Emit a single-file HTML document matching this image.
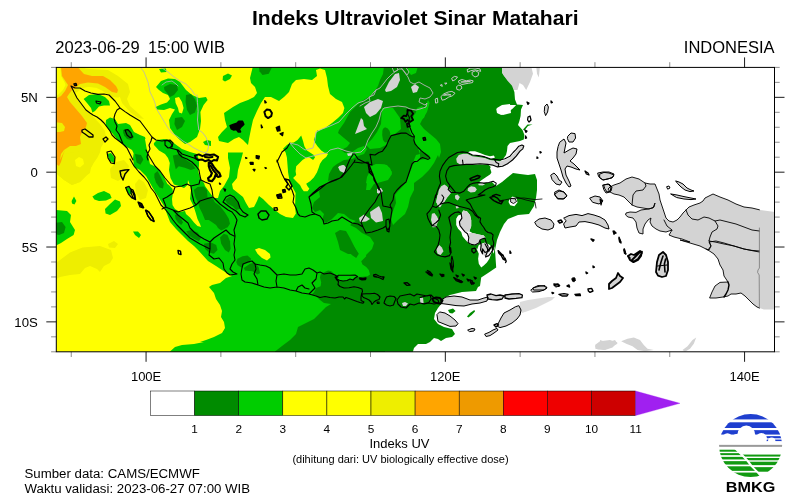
<!DOCTYPE html>
<html lang="id"><head><meta charset="utf-8"><title>Indeks Ultraviolet Sinar Matahari</title>
<style>
html,body{margin:0;padding:0;background:#fff;}
body{width:800px;height:504px;overflow:hidden;position:relative;font-family:"Liberation Sans",sans-serif;}
svg{position:absolute;left:0;top:0;display:block}
text{font-family:"Liberation Sans",sans-serif;fill:#000}
</style></head><body>
<svg width="800" height="504" viewBox="0 0 800 504">
<rect width="800" height="504" fill="#fff"/>
<defs><clipPath id="mc"><rect x="56.3" y="67.4" width="718.2" height="284.4"/></clipPath>
<clipPath id="lc"><circle cx="750.6" cy="445.6" r="31.5"/></clipPath></defs>

<g clip-path="url(#mc)">
<path d="M50.0 60.0L350.0 60.0L350.0 360.0L50.0 360.0Z" fill="#ffff00" />
<path d="M61.0 67.4L78.0 67.4L84.0 74.0L92.0 76.0L103.0 76.0L110.0 80.0L116.0 86.0L118.0 90.0L117.0 93.0L112.0 92.0L105.0 87.0L98.0 83.6L88.0 82.4L80.0 84.0L75.0 88.0L72.0 90.0L69.0 94.0L67.0 97.0L70.0 102.0L76.0 109.0L82.0 116.0L87.0 123.0L86.0 127.0L82.0 132.0L80.0 137.0L81.0 144.0L76.0 146.0L70.0 146.0L64.0 150.0L61.0 154.0L60.0 160.0L65.0 150.0L63.0 155.0L61.0 162.0L59.0 166.0L56.0 164.0L55.0 156.0L55.0 132.0L60.0 132.0L64.0 131.0L65.0 127.0L62.0 123.0L55.0 122.0L55.0 99.0L61.0 96.0L65.0 91.0L68.0 85.0L66.0 82.0L62.0 76.0Z" fill="#eeee00" stroke="#eeee00" stroke-width="9" stroke-linejoin="round"/>
<path d="M78.0 67.4L90.0 69.0L108.0 70.0L118.0 76.0L128.0 84.0L130.0 92.0L127.0 99.0L130.0 106.0L138.0 113.0L144.0 119.0L138.0 118.0L130.0 112.0L122.0 103.0L119.0 94.0L116.0 86.0L110.0 80.0L103.0 76.0L92.0 76.0L84.0 74.0Z" fill="#eeee00" />
<path d="M71.0 86.0L73.0 90.0L75.0 94.0L77.0 98.0L80.0 102.0L83.0 106.0L86.0 110.0L92.5 116.0L100.0 124.0L105.0 131.0L106.0 137.5L104.0 142.5L101.0 147.5L100.0 152.5L97.5 157.5L94.0 162.5L91.0 167.5L90.0 173.0L86.0 176.0L80.0 182.0L72.0 185.0L64.0 180.0L57.0 174.0L50.0 172.0L50.0 86.0Z" fill="#eeee00" />
<path d="M56.6 68.0L60.4 68.0L61.0 76.0L64.4 82.0L65.6 85.0L63.0 90.0L59.0 94.0L56.6 96.0Z" fill="#ffff00" />
<path d="M57.0 166.0L65.0 154.0L74.0 152.0L90.0 151.0L96.0 156.0L92.0 166.0L86.0 176.0L80.0 182.0L72.0 185.0L64.0 180.0L57.0 174.0Z" fill="#eeee00" />
<path d="M75.0 160.0L79.0 157.0L83.0 159.0L84.0 164.0L80.0 167.5L76.0 166.0Z" fill="#ffff00" />
<path d="M110.0 169.0L116.0 162.0L124.0 160.0L129.0 166.0L126.0 176.0L118.0 181.0L111.0 178.0Z" fill="#eeee00" />
<path d="M135.0 184.0L139.0 179.0L144.0 182.0L148.0 190.0L146.0 198.0L140.0 200.0L136.0 193.0Z" fill="#eeee00" />
<path d="M108.0 244.0L114.0 241.0L118.0 244.0L115.0 248.0L109.0 247.6Z" fill="#eeee00" />
<path d="M50.0 282.0L60.0 277.0L70.0 275.0L80.0 274.0L85.0 268.0L90.0 266.0L97.0 269.0L100.0 272.0L104.0 266.0L110.0 263.0L113.0 258.0L111.0 250.0L100.0 246.0L82.5 247.5L70.0 252.5L60.0 260.0L50.0 268.0Z" fill="#eeee00" />
<path d="M61.0 67.4L78.0 67.4L84.0 74.0L92.0 76.0L103.0 76.0L110.0 80.0L116.0 86.0L118.0 90.0L117.0 93.0L112.0 92.0L105.0 87.0L98.0 83.6L88.0 82.4L80.0 84.0L75.0 88.0L72.0 90.0L69.0 94.0L67.0 97.0L70.0 102.0L76.0 109.0L82.0 116.0L87.0 123.0L86.0 127.0L82.0 132.0L80.0 137.0L81.0 144.0L76.0 146.0L70.0 146.0L64.0 150.0L61.0 154.0L60.0 160.0L65.0 150.0L63.0 155.0L61.0 162.0L59.0 166.0L56.0 164.0L55.0 156.0L55.0 132.0L60.0 132.0L64.0 131.0L65.0 127.0L62.0 123.0L55.0 122.0L55.0 99.0L61.0 96.0L65.0 91.0L68.0 85.0L66.0 82.0L62.0 76.0Z" fill="#ffa500" />
<path d="M83.6 99.0L89.0 95.0L98.0 94.0L105.0 97.0L109.0 101.0L110.0 105.6L104.0 105.6L99.0 106.4L95.0 111.0L92.4 112.4L91.0 108.0L87.0 103.0Z" fill="#00cd00" />
<path d="M156.0 87.0L161.0 81.0L168.0 78.4L175.0 79.0L180.0 82.0L186.0 90.0L192.0 95.0L199.0 98.0L206.0 97.0L207.6 100.0L203.6 105.0L200.4 112.0L201.0 121.0L200.0 129.0L197.0 137.0L190.0 142.0L185.0 144.0L180.0 140.0L175.0 135.0L170.0 128.0L169.0 120.0L172.0 114.0L175.0 109.6L170.0 108.0L164.0 110.0L157.0 109.6L155.6 107.0L161.0 104.4L167.0 102.4L170.0 99.0L168.0 95.0L163.0 93.0L159.0 90.0Z" fill="#00cd00" />
<path d="M175.0 98.0L179.0 97.0L182.0 102.0L183.6 108.0L182.0 113.6L179.0 112.4L178.0 108.0L175.6 103.0Z" fill="#ffff00" />
<path d="M164.0 87.0L170.0 84.0L177.0 85.0L178.0 90.0L174.0 95.0L170.0 97.0L167.0 93.0L164.4 90.0Z" fill="#008b00" />
<path d="M186.0 95.0L191.0 94.0L195.0 99.0L197.0 106.0L195.0 112.4L190.0 115.0L187.0 110.0L185.6 102.0Z" fill="#008b00" />
<path d="M175.0 118.0L182.0 117.0L185.0 121.0L182.0 127.0L177.0 130.0L174.4 124.0Z" fill="#008b00" />
<path d="M159.0 69.0L166.0 68.4L166.4 72.0L161.0 72.4Z" fill="#00cd00" />
<path d="M203.0 142.0L207.0 140.0L211.0 141.0L211.0 146.0L205.0 145.0Z" fill="#00cd00" />
<path d="M92.4 196.4L98.0 193.0L104.0 191.0L110.0 194.0L111.6 198.0L106.0 200.4L99.0 201.0L94.4 199.6Z" fill="#00cd00" />
<path d="M105.0 209.0L110.0 204.0L115.0 199.6L120.0 201.6L121.0 206.0L117.0 211.0L110.0 215.0L105.6 213.6Z" fill="#00cd00" />
<path d="M71.6 201.0L74.0 196.4L76.4 201.0L74.4 204.4L72.0 203.6Z" fill="#00cd00" />
<path d="M133.0 231.6L138.0 231.6L141.0 235.0L139.0 238.0L135.0 235.0Z" fill="#00cd00" />
<path d="M55.0 210.0L67.0 211.0L71.0 215.0L70.0 222.0L75.0 230.0L73.6 235.0L67.0 239.0L61.0 243.0L55.0 246.0Z" fill="#00cd00" />
<path d="M55.0 223.0L62.0 222.0L65.6 227.0L64.0 233.0L59.0 235.0L55.0 234.0Z" fill="#008b00" />
<path d="M107.0 154.0L111.0 153.0L115.0 158.0L114.0 163.0L110.0 161.0Z" fill="#00cd00" />
<path d="M125.6 188.0L129.0 187.0L132.0 192.0L130.0 195.0L127.0 192.0Z" fill="#00cd00" />
<path d="M223.0 76.0L228.0 73.6L232.0 75.6L230.0 79.0L225.0 81.6L222.6 80.0Z" fill="#00cd00" />
<path d="M170.0 359.0L170.0 351.4L175.0 347.0L182.0 345.0L194.0 344.0L204.0 342.0L200.0 342.0L206.0 340.0L214.0 337.0L222.0 333.0L225.0 328.0L224.0 322.0L221.0 317.0L222.0 311.0L220.0 305.0L216.0 299.0L214.0 293.0L209.0 287.0L212.0 285.0L220.0 283.0L226.0 278.0L232.0 276.0L228.0 274.0L222.0 270.0L216.0 266.0L208.0 261.0L198.0 250.0L194.0 246.0L188.0 241.0L182.0 235.0L176.0 229.0L170.0 222.0L167.0 214.0L164.0 206.0L159.0 198.0L154.0 190.0L150.0 183.0L146.0 176.0L140.0 170.0L134.0 167.0L133.0 158.0L134.0 150.0L135.0 156.0L132.0 150.0L127.0 147.0L122.0 144.0L117.0 139.0L112.0 133.0L109.0 130.0L105.6 125.0L106.0 120.0L110.0 117.6L115.0 119.0L118.0 124.0L126.0 123.0L130.0 125.0L134.0 132.0L140.0 135.0L145.0 137.0L146.0 141.0L150.0 143.0L153.0 144.0L157.0 140.0L164.0 139.0L170.0 140.0L175.0 144.0L182.0 149.0L190.0 152.0L197.0 154.0L199.0 160.0L199.0 165.0L198.4 172.0L200.0 178.0L204.0 183.0L205.0 186.0L210.0 193.0L214.0 198.0L218.0 198.0L220.0 191.0L224.0 186.0L229.0 177.0L230.0 168.0L228.0 158.0L228.0 152.4L243.0 152.4L241.0 160.0L238.0 170.0L237.0 178.0L232.0 184.0L233.0 189.0L238.0 193.0L243.0 197.0L246.0 203.0L249.0 208.0L254.0 207.0L257.0 201.0L259.0 196.0L263.0 199.0L269.0 205.0L275.0 210.0L280.0 214.0L286.0 217.0L293.0 218.0L295.6 214.0L385.0 214.0L385.0 360.0L170.0 360.0Z" fill="#00cd00" />
<path d="M145.0 139.0L153.0 139.0L154.0 145.0L159.0 150.5L165.0 154.0L168.0 158.0L169.8 163.0L169.0 170.0L170.5 178.0L174.0 184.5L179.0 186.0L184.0 188.0L187.5 185.0L188.0 180.0L190.0 185.0L191.0 190.0L190.0 199.0L193.0 205.0L194.0 207.5L195.6 212.5L197.5 219.0L200.0 224.0L201.0 227.0L197.5 226.0L194.0 222.5L190.0 217.5L186.0 214.0L185.0 211.0L180.0 212.0L175.0 209.0L172.5 205.0L172.0 199.0L173.0 192.5L172.5 189.0L169.0 185.0L167.5 184.0L163.7 176.7L160.0 171.0L154.0 166.0L150.0 164.0L147.4 152.6L146.0 145.0Z" fill="#ffff00" />
<path d="M255.0 249.5L259.0 248.0L265.0 250.0L270.0 254.0L270.5 257.5L267.0 260.5L262.0 258.0L257.5 253.8Z" fill="#ffff00" />
<path d="M253.0 66.0L250.0 78.0L251.0 83.0L255.0 87.0L257.0 93.0L254.0 97.0L248.0 100.0L240.0 103.0L233.0 107.0L224.0 113.0L225.0 120.0L227.0 127.0L222.0 132.0L218.0 137.0L219.0 141.0L228.0 143.0L234.0 139.0L239.0 137.0L243.0 140.0L248.0 145.0L249.0 139.0L251.0 129.0L253.0 120.0L257.0 111.0L261.0 103.0L265.0 97.0L271.0 97.0L279.0 101.0L284.0 97.0L289.0 92.0L292.0 84.0L296.0 80.0L304.0 79.0L312.0 80.0L317.0 76.0L316.0 70.0L320.0 68.4L325.0 70.0L327.0 78.0L328.0 86.0L330.0 94.0L336.0 99.0L342.0 102.0L344.4 108.0L343.0 113.0L338.0 118.0L332.0 123.0L325.0 128.0L318.0 131.0L317.5 130.0L315.6 135.0L313.8 140.0L315.0 142.5L317.5 146.2L321.2 150.6L325.0 153.1L328.1 153.8L326.2 156.9L322.5 160.0L320.0 163.8L318.8 167.5L316.9 172.5L313.8 177.5L310.0 181.2L306.2 183.8L307.5 186.2L309.4 188.8L307.5 191.2L303.8 191.2L301.9 188.8L300.0 185.0L296.2 181.2L293.1 178.1L296.2 175.0L295.6 171.2L296.2 166.2L298.8 163.8L302.5 160.0L305.6 158.1L308.8 156.9L313.1 160.0L315.0 157.5L313.8 155.0L310.0 152.5L306.9 150.6L304.4 146.2L303.1 141.2L301.2 135.6L297.5 140.0L293.8 142.5L290.0 143.1L286.9 145.0L283.1 148.8L285.6 152.5L286.9 157.5L287.5 165.0L288.1 172.5L289.4 180.0L291.2 185.0L293.8 189.4L295.6 193.0L295.0 207.0L296.0 215.0L385.0 215.0L400.0 160.0L400.0 60.0Z" fill="#00cd00" />
<path d="M123.0 130.0L127.0 129.0L131.0 133.0L134.0 137.0L131.0 140.0L127.0 139.0L124.0 135.0Z" fill="#008b00" />
<path d="M123.0 131.5L127.5 130.0L132.0 134.5L129.0 138.3L124.5 136.0Z" fill="#008b00" />
<path d="M135.0 154.0L141.0 155.0L143.4 159.4L140.4 164.7L136.6 162.4Z" fill="#008b00" />
<path d="M154.4 173.8L157.5 171.0L161.0 177.5L163.8 183.8L163.0 188.5L159.4 187.5L156.0 182.5L154.4 177.5Z" fill="#008b00" />
<path d="M172.8 155.6L180.3 154.0L186.3 160.0L192.4 164.0L195.4 168.4L190.9 170.0L184.8 167.7L178.8 166.2L175.8 169.2L174.3 163.2Z" fill="#008b00" />
<path d="M193.8 190.0L197.5 187.0L203.8 186.5L207.0 190.0L207.5 197.0L212.5 198.0L215.0 202.5L220.0 206.0L225.0 212.5L228.8 218.8L230.0 223.8L227.5 227.5L222.5 228.8L217.5 226.0L212.5 222.5L208.8 220.0L205.0 220.0L202.5 213.8L199.4 207.5L198.0 202.5L195.6 197.5Z" fill="#008b00" />
<path d="M225.0 200.0L230.0 196.5L235.0 198.0L238.8 203.8L240.0 208.8L236.2 210.0L232.5 206.2L227.5 203.8Z" fill="#008b00" />
<path d="M175.0 215.0L177.5 213.8L181.2 218.8L183.0 222.5L181.2 225.0L178.0 222.5L175.6 218.8Z" fill="#008b00" />
<path d="M186.2 231.2L191.2 230.0L197.5 232.5L201.2 237.5L198.8 241.2L193.8 238.8L188.8 235.6Z" fill="#008b00" />
<path d="M203.8 243.8L211.2 242.5L216.2 245.0L217.5 250.0L213.8 253.8L208.8 252.5L205.0 248.8Z" fill="#008b00" />
<path d="M220.0 237.5L223.8 233.8L227.5 235.0L230.0 241.2L230.6 248.8L228.8 252.5L225.0 250.0L221.2 243.8Z" fill="#008b00" />
<path d="M216.2 225.0L227.5 225.0L225.0 228.8L221.2 230.6L218.0 228.0Z" fill="#008b00" />
<path d="M237.5 258.8L242.5 256.2L247.5 255.6L251.2 258.8L250.0 262.5L245.0 263.8L241.2 267.5L237.5 265.0L236.2 262.0Z" fill="#008b00" />
<path d="M250.0 263.8L255.0 262.5L258.8 267.5L260.0 273.0L257.5 274.4L252.5 271.2L245.0 270.6L243.8 268.0Z" fill="#008b00" />
<path d="M500.0 66.2L531.2 66.2L533.0 73.8L530.0 82.0L526.2 90.0L523.0 85.0L519.5 83.0L517.5 90.0L505.0 90.0L500.0 75.0Z" fill="#d3d3d3" />
<path d="M536.2 66.2L540.0 66.2L538.8 77.5L537.0 73.8Z" fill="#d3d3d3" />
<path d="M568.0 136.0L571.0 133.0L575.0 133.6L575.6 138.0L573.0 142.0L569.0 142.0L567.6 139.0Z" fill="#d3d3d3" />
<path d="M560.0 142.0L564.0 139.0L566.0 143.0L565.0 148.0L564.0 153.0L569.0 150.0L573.0 148.0L577.0 149.0L576.0 154.0L573.0 158.0L570.0 161.0L574.0 164.0L578.0 168.0L580.0 170.0L576.0 169.0L571.0 167.0L567.0 166.0L565.0 169.0L566.0 175.0L569.0 181.0L571.0 186.0L569.0 187.0L566.0 183.0L563.0 177.0L561.0 170.0L559.0 164.0L557.0 158.0L557.0 152.0L558.0 147.0Z" fill="#d3d3d3" />
<path d="M551.0 175.0L554.0 173.0L557.0 176.0L559.0 180.0L562.0 182.0L560.0 185.0L556.0 184.0L552.4 180.0Z" fill="#d3d3d3" />
<path d="M555.0 192.0L559.0 190.0L564.0 192.0L567.0 196.0L564.0 199.0L558.0 198.4L555.0 195.6Z" fill="#d3d3d3" />
<path d="M598.0 173.0L603.0 172.0L609.0 172.0L614.0 174.0L613.0 177.0L608.0 179.0L603.0 180.0L599.0 177.0Z" fill="#d3d3d3" />
<path d="M604.0 185.0L609.0 184.0L612.0 187.0L611.0 191.0L607.0 192.0L605.0 189.0Z" fill="#d3d3d3" />
<path d="M545.0 106.0L547.0 104.0L548.4 107.0L547.6 112.0L545.6 115.6L544.4 112.0Z" fill="#d3d3d3" />
<path d="M535.0 222.0L539.0 219.0L545.0 218.0L551.0 220.0L554.0 224.0L553.0 228.0L548.0 230.0L542.0 229.0L537.0 226.0Z" fill="#d3d3d3" />
<path d="M564.0 218.0L569.0 215.6L576.0 214.4L582.0 215.6L588.0 213.6L594.0 215.0L600.0 217.0L605.0 220.0L608.0 225.0L609.0 229.0L605.0 228.0L599.0 225.0L592.0 223.0L585.0 221.6L579.0 222.0L576.0 226.0L570.0 227.0L565.0 228.0L563.6 224.0L566.0 221.0Z" fill="#d3d3d3" />
<path d="M590.0 198.0L595.0 196.0L600.0 197.0L603.0 201.0L599.0 204.0L593.0 202.4Z" fill="#d3d3d3" />
<path d="M628.0 256.0L631.0 254.0L634.0 255.0L640.0 251.0L642.0 253.0L638.0 259.0L633.0 262.0L630.0 260.0Z" fill="#d3d3d3" />
<path d="M609.0 284.0L612.0 281.0L616.0 278.0L618.0 273.0L620.0 276.0L623.0 278.0L620.0 282.0L616.0 285.0L612.0 288.0L609.0 289.0Z" fill="#d3d3d3" />
<path d="M533.0 288.0L538.0 285.6L544.0 286.0L547.0 288.0L544.0 290.0L534.0 290.0Z" fill="#d3d3d3" />
<path d="M610.0 187.0L614.0 185.0L620.0 183.0L626.0 179.0L632.0 177.0L639.0 179.0L645.0 183.0L650.0 184.0L655.0 184.0L657.0 189.0L659.0 194.0L660.0 200.0L662.0 206.0L664.0 212.0L666.0 218.0L669.0 221.0L673.0 222.0L677.0 220.0L680.0 217.0L683.0 213.0L686.0 210.0L689.0 207.0L694.0 205.0L700.0 203.0L703.0 201.0L705.0 198.0L709.0 196.0L713.0 194.0L720.0 197.0L728.0 200.0L736.0 204.0L744.0 207.0L752.0 208.0L760.0 210.0L778.0 212.4L778.0 309.6L764.0 309.6L759.4 308.0L757.0 307.0L753.0 304.0L749.0 300.0L745.0 296.0L741.0 293.0L736.0 294.0L731.0 294.0L728.0 296.0L723.0 297.0L716.0 298.0L709.6 298.0L712.0 292.0L715.0 286.0L720.0 282.4L728.0 282.0L724.0 276.0L723.0 270.0L720.0 265.0L718.0 259.0L714.0 254.0L708.0 250.0L700.0 246.0L690.0 243.0L680.0 240.0L690.0 242.0L682.0 239.0L674.0 237.0L669.0 235.0L672.0 230.0L666.0 232.0L660.0 231.0L656.0 229.0L652.0 226.0L650.0 222.0L651.0 218.0L648.0 220.0L645.0 224.0L643.0 229.0L643.0 234.0L639.0 233.0L637.0 228.0L636.0 222.0L633.0 218.0L628.0 217.0L625.6 215.0L626.0 213.0L630.0 212.0L636.0 212.4L641.0 210.0L647.0 209.2L643.0 208.0L637.0 207.0L632.0 205.0L628.0 201.0L624.0 197.0L619.0 195.0L614.0 194.0L610.0 192.0L608.0 189.0Z" fill="#d3d3d3" />
<path d="M671.0 194.0L677.0 195.0L684.0 196.6L691.0 198.0L696.0 199.0L691.0 199.6L684.0 199.0L677.0 197.6Z" fill="#d3d3d3" />
<path d="M676.0 181.0L679.0 182.0L683.0 184.0L687.0 188.0L691.0 190.0L694.0 191.0L690.0 191.6L685.0 190.0L681.0 187.0L678.0 184.0Z" fill="#d3d3d3" />
<path d="M600.0 174.0L604.0 172.4L609.0 173.0L614.0 175.0L612.0 178.0L607.0 179.0L603.0 180.0L600.0 178.0Z" fill="#d3d3d3" />
<path d="M603.0 185.0L608.0 184.0L611.0 187.0L610.0 192.0L606.0 193.0L604.0 190.0Z" fill="#d3d3d3" />
<path d="M656.0 272.0L657.0 262.0L659.0 255.0L663.0 252.0L666.0 255.0L668.0 262.0L668.0 270.0L666.0 276.0L662.0 277.0L658.0 275.6Z" fill="#d3d3d3" />
<path d="M600.0 340.0L607.5 342.5L615.0 340.0L617.5 343.8L610.0 347.5L603.8 350.0L600.0 348.8Z" fill="#d3d3d3" />
<path d="M621.2 341.2L627.5 338.8L633.8 337.5L640.0 340.0L643.8 345.0L647.5 348.8L653.8 350.0L645.0 351.2L637.5 350.0L632.5 346.2L626.2 343.8Z" fill="#d3d3d3" />
<path d="M682.5 350.0L687.5 346.2L692.5 340.0L696.2 337.5L693.8 343.8L690.0 348.8L685.0 351.8Z" fill="#d3d3d3" />
<path d="M595.0 345.0L600.0 341.2L610.0 340.0L617.5 342.5L612.5 347.5L605.0 350.0L597.5 349.5Z" fill="#d3d3d3" />
<path d="M520.0 302.0L528.0 300.0L538.0 298.4L548.0 297.0L555.0 297.0L552.0 300.0L544.0 304.0L536.0 308.0L528.0 311.0L522.0 313.0L519.0 309.0L519.6 305.0Z" fill="#dcdcdc" />
<path d="M441.0 300.0L446.0 297.0L454.0 296.0L462.0 297.0L470.0 300.0L478.0 300.0L484.0 298.0L488.0 297.0L487.0 301.0L480.0 303.0L472.0 304.0L464.0 306.0L456.0 305.6L448.0 304.4L442.0 303.6Z" fill="#d3d3d3" />
<path d="M487.0 295.0L491.0 294.0L496.0 295.6L500.0 295.0L504.0 296.0L502.0 299.0L497.0 300.0L492.0 299.6L488.0 299.0Z" fill="#d3d3d3" />
<path d="M505.0 295.0L512.0 294.0L519.0 293.6L522.4 295.0L522.0 297.6L516.0 298.4L509.0 299.0L505.0 298.0Z" fill="#d3d3d3" />
<path d="M531.0 290.0L534.0 287.6L540.0 286.0L545.0 285.6L547.0 287.6L544.0 290.0L539.0 291.6L533.0 292.0Z" fill="#d3d3d3" />
<path d="M519.0 306.0L521.0 310.0L520.0 315.0L517.0 319.0L512.0 323.0L506.0 326.0L500.0 327.6L497.0 326.0L499.0 322.0L501.0 318.0L504.0 313.0L510.0 310.0L515.0 307.0Z" fill="#d3d3d3" />
<path d="M485.0 334.0L489.0 332.4L493.0 330.0L497.0 328.4L498.0 330.0L494.0 333.0L490.0 335.6L486.4 336.4Z" fill="#d3d3d3" />
<path d="M468.0 330.0L472.0 328.4L475.0 329.0L474.0 331.0L470.0 331.6Z" fill="#d3d3d3" />
<path d="M440.0 312.0L445.0 313.0L450.0 316.0L455.0 320.0L458.0 323.6L456.0 326.0L450.0 326.4L444.0 324.0L438.0 321.6L437.0 315.0Z" fill="#d3d3d3" />
<path d="M595.0 346.0L600.0 342.0L606.0 342.0L606.0 349.0L595.6 349.0Z" fill="#d3d3d3" />
<path d="M384.0 66.0L383.0 74.0L380.0 80.0L378.0 86.0L374.0 92.0L370.0 96.0L362.0 101.0L356.0 106.0L350.0 112.0L344.0 123.0L339.0 130.0L338.0 133.0L344.0 138.0L350.0 143.0L347.0 147.0L341.0 150.0L345.0 153.0L352.0 152.0L358.0 148.0L364.0 146.0L367.0 149.0L364.0 154.0L358.0 156.0L352.0 159.0L344.0 160.0L337.0 164.0L333.0 167.0L329.0 174.0L328.0 181.0L331.0 180.0L324.0 185.0L319.0 191.0L320.0 197.0L314.0 202.0L312.0 208.0L315.0 212.0L320.0 210.0L324.0 214.0L322.0 220.0L326.0 223.0L332.0 219.0L338.0 213.0L344.0 214.0L350.0 219.0L356.0 221.0L360.0 218.0L350.0 225.0L356.0 228.0L362.0 233.0L370.0 237.0L374.0 243.0L372.0 249.0L366.0 255.0L366.2 256.2L361.2 261.2L362.5 264.4L366.2 266.9L368.8 270.0L370.0 274.4L367.5 276.2L360.0 276.9L355.0 275.6L337.5 275.6L335.0 275.0L333.1 273.1L331.2 271.2L328.1 270.6L323.8 272.5L320.6 274.4L320.0 277.5L321.2 282.5L320.6 286.2L316.2 288.1L313.8 292.5L311.2 295.0L315.0 295.0L320.0 300.0L324.0 303.0L331.0 304.0L326.0 307.0L320.0 313.0L314.0 319.0L306.0 323.0L298.0 327.0L296.0 334.0L290.0 340.0L282.0 346.0L275.0 351.4L275.0 359.0L413.0 359.0L413.0 351.4L414.0 348.0L418.0 344.0L426.0 344.0L430.0 342.0L434.0 338.0L438.0 339.0L441.0 341.0L446.0 338.0L452.0 337.0L455.0 334.0L452.0 329.0L444.0 327.0L438.0 324.0L434.0 319.0L435.0 313.0L438.0 308.0L442.0 303.0L444.0 298.0L450.0 295.0L462.0 292.0L476.0 291.0L478.0 287.0L480.0 286.0L481.2 277.5L488.8 272.5L496.2 267.5L495.0 250.0L497.0 240.0L500.0 232.0L504.0 224.0L508.0 219.0L518.0 215.0L529.0 214.0L534.0 206.0L536.0 198.0L537.0 190.0L537.0 180.0L535.0 174.0L528.0 175.0L520.0 174.0L513.0 173.0L508.0 177.0L502.0 182.0L496.0 186.0L490.0 180.0L492.0 174.0L490.0 168.0L492.0 166.0L499.0 162.0L503.0 159.0L506.0 155.0L507.0 151.0L507.0 151.0L507.5 146.0L510.0 143.0L515.0 142.0L520.0 141.0L523.8 139.4L524.4 135.0L522.5 130.0L518.0 125.0L519.4 121.0L520.6 116.0L521.0 109.5L523.0 105.0L517.0 104.5L515.0 99.5L514.4 92.0L512.0 85.8L507.5 80.8L503.0 74.5L501.9 68.0L501.0 60.0Z" fill="#008b00" />
<path d="M523.0 129.4L527.5 124.4L532.5 124.4L528.0 126.0L524.4 130.5Z" fill="#008b00" />
<path d="M338.1 238.8L348.8 238.8L353.8 246.2L358.8 253.8L356.2 258.1L352.5 255.6L347.5 251.2L343.1 246.2L339.4 242.5Z" fill="#008b00" />
<path d="M335.0 233.0L340.0 230.0L346.0 231.0L350.0 238.0L354.0 246.0L358.0 254.0L348.0 254.0L340.0 250.0L338.0 242.0Z" fill="#008b00" />
<path d="M258.8 66.2L272.5 66.2L268.8 73.8L262.5 75.0L259.5 71.2Z" fill="#008b00" />
<path d="M336.5 277.0L338.5 275.2L344.0 275.2L350.0 275.2L355.0 275.0L357.5 276.5L355.0 278.0L353.0 280.0L350.0 279.0L347.0 280.5L343.0 281.0L339.5 280.2L337.0 279.0Z" fill="#00cd00" />
<path d="M369.0 173.0L371.0 167.0L378.0 164.0L387.0 165.0L392.0 172.0L389.0 178.0L382.0 180.0L376.0 181.0L370.0 185.0L366.0 183.0L367.0 177.0Z" fill="#00cd00" />
<path d="M418.0 111.0L424.0 109.0L428.0 100.0L429.6 103.0L427.0 112.0L422.0 120.0L420.0 124.0L424.0 129.0L430.0 134.0L436.0 139.0L440.0 144.0L441.0 152.0L439.0 158.0L438.0 155.0L434.0 163.0L429.0 170.0L422.0 177.0L414.0 183.0L414.0 190.0L410.0 198.0L408.0 207.0L405.0 214.0L398.0 220.0L393.0 225.0L391.0 219.0L393.0 211.0L396.0 203.0L395.0 195.0L399.0 190.0L404.0 185.0L408.0 177.0L412.0 167.0L414.0 160.0L416.0 155.0L420.0 154.0L418.0 148.0L414.0 140.0L410.0 132.0L408.0 126.0L412.0 120.0L414.0 115.0Z" fill="#00cd00" />
<path d="M408.0 66.0L418.0 66.0L416.0 73.0L411.0 75.0L408.0 71.0Z" fill="#00cd00" />
<path d="M382.0 108.0L393.0 108.0L400.0 118.0L401.0 129.0L395.0 134.0L389.0 137.0L388.0 144.0L380.0 148.0L370.0 149.0L366.0 145.0L372.0 139.0L377.0 132.0L381.0 124.0Z" fill="#00cd00" />
<path d="M382.4 130.7L383.0 128.7L385.0 127.3L387.5 128.3L389.5 130.7L390.3 133.5L390.0 139.0L388.0 142.0L385.0 142.5L383.0 140.0L382.2 135.0Z" fill="#008b00" />
<path d="M420.0 150.6L425.0 152.5L430.0 156.2L427.5 158.8L422.5 159.4L420.0 160.0Z" fill="#008b00" />
<path d="M369.0 167.0L376.0 164.0L385.0 164.4L390.0 168.0L392.0 174.0L388.0 180.0L381.0 182.0L374.0 184.0L370.0 190.0L366.0 190.0L367.0 182.0L372.0 178.0L373.0 173.0L369.0 170.0Z" fill="#00cd00" />
<path d="M417.0 108.0L422.0 106.0L426.0 112.0L424.0 118.0L419.0 120.0L415.0 116.0Z" fill="#00cd00" />
<path d="M488.1 164.6L491.9 168.1L492.5 171.2L490.0 174.4L486.2 176.9L482.5 179.4L479.8 181.6L479.0 182.9L485.0 183.1L490.0 182.5L493.8 181.2L496.9 183.8L501.2 181.9L505.0 178.8L507.5 176.2L510.0 173.8L513.8 171.9L521.2 172.2L521.2 151.9L516.2 156.9L512.5 160.6L507.5 164.4L502.5 166.9L497.5 167.2L492.5 165.6Z" fill="#ffffff" />
<path d="M467.5 152.5L470.0 151.2L475.0 151.2L480.0 153.1L485.0 155.0L490.0 156.2L493.8 155.6L495.0 157.5L491.2 159.0L485.0 157.1L478.8 155.9L472.5 155.2Z" fill="#ffffff" />
<path d="M456.2 158.8L458.8 155.0L463.1 153.8L467.5 153.8L472.5 156.2L478.8 156.9L485.0 158.1L490.0 160.0L495.0 160.6L500.0 161.2L505.0 160.0L510.0 157.5L513.8 153.8L516.9 150.0L520.0 146.2L521.9 145.2L523.5 146.0L522.8 148.8L520.0 151.9L516.2 156.9L512.5 160.6L507.5 164.4L502.5 166.9L497.5 167.2L492.5 165.6L487.5 164.8L480.0 164.4L472.5 164.8L466.2 164.8L460.0 164.4L456.9 162.5Z" fill="#d3d3d3" />
<path d="M385.0 90.0L389.0 82.0L395.0 74.0L399.0 73.0L400.0 80.0L397.0 87.0L391.0 91.0L386.0 92.0Z" fill="#d3d3d3" />
<path d="M364.0 107.0L370.0 102.0L378.0 99.0L383.0 101.0L381.0 108.0L376.0 114.0L370.0 117.0L366.0 113.0Z" fill="#d3d3d3" />
<path d="M355.0 134.0L358.0 126.0L361.0 118.0L363.0 120.0L364.0 126.0L367.0 129.0L360.0 132.0Z" fill="#d3d3d3" />
<path d="M411.0 87.0L415.0 84.0L419.0 87.0L417.0 92.0L413.0 93.0Z" fill="#d3d3d3" />
<path d="M502.0 68.0L510.0 67.0L510.0 80.0L505.0 77.0L502.0 73.0Z" fill="#d3d3d3" />
<path d="M497.0 108.0L502.0 105.0L510.0 104.0L511.0 113.0L503.0 115.0L498.0 113.0Z" fill="#ffffff" />
<path d="M347.0 153.6L352.0 153.0L351.6 155.6L348.0 156.0Z" fill="#d3d3d3" />
<path d="M338.0 167.0L343.0 165.0L346.0 169.0L344.0 173.0L340.0 171.0Z" fill="#d3d3d3" />
<path d="M339.0 166.0L344.0 165.0L346.4 168.0L344.0 171.6L340.0 171.0Z" fill="#d3d3d3" />
<path d="M377.0 189.0L381.0 188.0L383.0 191.0L380.0 194.0L377.0 193.0Z" fill="#d3d3d3" />
<path d="M359.0 218.0L364.0 214.6L370.0 219.0L366.0 221.4L360.0 222.0Z" fill="#d3d3d3" />
<path d="M370.0 212.0L379.0 206.0L382.0 213.0L383.0 221.0L376.0 222.6L371.0 218.0Z" fill="#d3d3d3" />
<path d="M468.1 188.1L471.2 186.2L475.0 186.9L476.9 189.4L475.0 191.9L470.6 192.5L467.5 190.6Z" fill="#d3d3d3" />
<path d="M478.1 183.8L482.5 183.1L485.0 184.4L482.5 185.6L478.8 185.2Z" fill="#d3d3d3" />
<path d="M438.8 190.0L441.2 186.2L444.4 184.4L446.9 186.2L449.4 189.4L451.9 191.9L449.4 195.0L446.9 198.1L444.4 201.9L443.1 203.0L436.2 203.0L436.9 198.8L438.1 193.8Z" fill="#d3d3d3" />
<path d="M455.0 195.6L457.5 194.4L459.8 196.9L458.1 200.0L455.6 198.8Z" fill="#d3d3d3" />
<path d="M431.9 224.8L436.9 224.5L436.2 226.9L432.5 227.2Z" fill="#ffffff" />
<path d="M437.5 195.0L448.1 195.0L446.2 198.8L443.1 203.1L440.0 207.5L437.5 205.6L436.2 201.2Z" fill="#d3d3d3" />
<path d="M431.9 213.8L434.4 213.1L436.9 216.2L438.8 220.0L436.9 224.4L432.5 225.0L431.0 220.0Z" fill="#d3d3d3" />
<path d="M455.0 196.2L457.5 195.0L459.4 197.5L457.5 200.6L455.6 198.8Z" fill="#d3d3d3" />
<path d="M455.6 206.2L458.1 206.0L458.8 208.1L456.2 208.5Z" fill="#d3d3d3" />
<path d="M436.2 248.8L439.4 245.0L441.9 247.5L443.5 251.2L440.6 255.0L437.5 253.8Z" fill="#d3d3d3" />
<path d="M456.2 218.8L458.1 215.6L461.2 214.4L463.1 210.6L466.9 211.2L470.0 215.0L471.2 220.0L471.2 226.2L469.4 231.2L472.5 233.1L478.8 234.4L483.8 235.6L485.6 238.1L482.5 239.0L480.0 240.2L478.8 243.8L475.0 245.2L471.2 244.8L468.1 242.8L465.6 240.0L462.5 236.2L461.2 231.9L458.1 228.8L456.2 225.0Z" fill="#ffffff" />
<path d="M461.9 215.0L463.1 210.6L466.9 211.2L470.0 215.0L471.2 220.0L471.2 226.2L469.4 231.2L466.2 231.9L463.1 228.8L460.0 225.6L459.4 221.9L461.9 218.1Z" fill="#d3d3d3" />
<path d="M468.8 233.1L472.5 233.1L478.8 234.4L483.8 235.6L485.0 238.1L482.5 238.8L480.0 240.2L478.8 243.5L475.0 245.0L471.2 244.4L468.1 242.5L468.8 237.5Z" fill="#d3d3d3" />
<path d="M478.8 245.0L485.0 242.5L490.0 245.0L491.9 250.0L493.8 253.8L494.8 246.2L493.1 250.0L491.2 253.8L489.4 258.8L486.9 262.5L483.8 265.6L481.2 267.5L478.8 263.8L478.1 258.8L478.8 253.8L476.9 249.4L475.0 246.2L476.9 250.0Z" fill="#ffffff" />
<path d="M480.2 245.0L482.5 243.2L485.2 243.8L486.5 247.5L488.1 250.0L490.0 252.5L492.5 245.0L491.2 250.0L488.1 253.8L485.0 256.2L482.5 254.4L481.2 250.0L479.8 246.2L480.6 250.0Z" fill="#d3d3d3" />
<path d="M496.2 108.8L502.5 106.2L510.0 105.0L516.2 105.0L512.5 108.8L507.5 112.5L501.2 115.0L497.0 113.0Z" fill="#ffffff" />
<path d="M509.4 199.4L512.5 196.5L516.5 198.1L517.5 202.5L514.4 206.2L510.2 205.2L508.5 201.9Z" fill="#ffffff" />
<path d="M511.0 198.5L515.2 198.8L516.5 201.5L513.5 203.5L511.0 202.2Z" fill="#d3d3d3" />
<path d="M402.0 303.0L405.0 302.0L408.0 303.4L406.0 306.0L403.0 306.0Z" fill="#d3d3d3" />
<path d="M420.0 298.0L423.0 297.4L423.6 303.0L420.4 304.0Z" fill="#d3d3d3" />
<path d="M448.0 310.0L453.0 308.6L455.6 311.0L452.4 313.6L449.6 313.0Z" fill="#008b00" />
<path d="M467.0 316.4L470.0 313.0L474.4 310.0L475.0 311.6L471.6 315.0L468.4 317.6Z" fill="#008b00" />
<path d="M71.0 86.0L75.0 88.0L80.0 88.0L85.0 91.0L91.0 93.0L98.0 94.4L104.0 94.0L109.0 95.0L112.0 98.0L115.0 101.0L118.0 105.0L120.0 108.0L125.0 111.6L130.0 115.0L135.0 118.0L140.0 121.0L143.0 125.0L146.0 129.0L149.0 133.0L152.0 137.0L156.0 140.0L162.0 141.0L167.0 140.0L170.0 142.0L172.0 145.0L170.0 148.0L174.0 149.0L178.0 150.0L182.0 154.0L188.0 156.0L194.0 158.0L199.0 160.0M71.0 86.0L73.0 90.0L75.0 94.0L77.0 98.0L80.0 102.0L83.0 106.0L86.0 110.0L90.0 113.0L93.0 115.0L97.0 117.0L101.0 120.0L104.0 123.0L107.0 127.0L110.0 131.0L112.0 135.0L115.0 138.0L119.0 141.0L123.0 144.0L127.0 148.0L129.0 152.0L131.0 156.0L133.0 160.0M120.0 108.0L117.0 110.0L115.0 114.0L114.0 118.0L115.0 122.0L117.0 126.0L116.0 130.0L119.0 134.0L121.0 139.0L123.0 144.0M152.0 137.0L151.0 141.0L149.0 145.0L150.0 149.0L148.0 153.0L147.0 157.0L148.0 160.0M165.0 141.0L170.0 140.0L173.0 143.0L172.0 147.0L168.0 148.0L165.0 145.0ZM130.0 159.0L134.0 166.0L139.0 172.0L144.0 177.0L148.0 182.0L151.0 188.0L155.0 193.0L158.0 199.0L161.0 205.0L165.0 209.0L169.0 214.0L173.0 220.0L177.0 225.0L181.0 229.0L186.0 234.0L190.0 238.0L195.0 241.0L200.0 244.0L206.0 247.0L210.0 249.0L209.0 255.0L214.0 259.0L219.0 258.0L223.0 263.0L224.0 269.0L227.0 273.0L230.0 275.0L237.0 274.0L233.0 272.0L230.0 269.0L232.0 264.0L235.0 260.0L234.0 255.0M177.0 150.0L179.0 154.0L182.0 157.0L187.0 159.0L192.0 162.0L196.0 166.0L199.0 170.0L200.0 176.0L201.0 180.0L205.0 182.0L210.0 184.0L212.0 190.0L213.0 197.0L216.0 200.0L220.0 204.0L224.0 207.0L228.0 210.0L232.0 212.0L235.0 216.0L237.0 220.0L236.0 224.0L234.0 230.0L235.0 236.0L234.0 244.0L235.0 250.0L234.0 255.0M146.0 150.0L149.0 156.0L155.0 166.0L160.0 171.0L165.0 178.0L171.0 185.0L175.0 187.0L173.0 193.0L167.0 197.0L163.0 199.0L165.0 204.0L166.0 207.0L162.0 209.0M175.0 187.0L182.0 186.0L187.0 184.0L191.0 186.0L199.0 184.0L200.0 180.0M191.0 186.0L192.0 194.0L194.0 202.0L196.0 205.0L190.0 208.0L184.0 210.0L178.0 212.0L173.0 210.0L168.0 208.0L165.6 207.0M196.0 205.0L200.0 201.0L206.0 199.0L213.0 197.0M173.0 210.0L178.0 215.0L183.0 219.0L188.0 223.0L190.0 228.0L194.0 232.0L199.0 236.0L204.0 239.0L210.0 242.0L214.0 238.0L220.0 234.0L226.0 230.0L230.0 234.0L234.0 236.0M210.0 242.0L210.0 249.0M242.0 268.0L243.0 264.0L248.0 262.0L252.0 261.0L255.0 264.0L260.0 265.0L266.0 266.0L270.0 268.0L274.0 272.0L277.0 275.0L284.0 274.0L290.0 275.0L296.0 275.0L302.0 274.0L305.0 269.0L309.0 268.0L313.0 270.0L317.0 273.0L320.0 272.0L324.0 274.0L330.0 273.0L335.0 275.0L338.0 277.0L335.0 277.0L336.5 279.5L338.5 281.5L338.0 284.5L340.0 286.5L344.0 288.0L349.0 287.8L354.0 286.8L358.0 287.5L362.0 289.0L362.5 291.5L361.5 294.0L361.0 297.0L361.0 300.5L364.0 302.0L363.0 303.2L360.0 302.5L357.0 301.5L353.0 300.0L349.0 298.5L346.0 297.5L344.5 299.0L343.0 297.0L339.0 297.0L335.0 298.0L330.0 297.5L325.0 296.5L320.0 297.5L316.0 296.0L309.0 294.0L302.0 293.0L296.0 291.0L290.0 290.0L284.0 288.0L277.0 287.0L270.0 288.0L264.0 287.0L258.0 285.0L252.0 283.0L245.0 282.0L242.0 280.0L241.0 274.0ZM255.0 264.0L256.0 269.0L254.0 274.0L257.0 279.0L258.0 285.0M277.0 275.0L276.0 281.0L277.0 287.0M317.0 273.0L316.0 279.0L312.0 283.0L315.0 288.0L309.0 294.0M296.0 291.0L298.0 287.0L302.0 285.0L305.0 288.0L309.0 289.0M336.5 277.0L338.5 275.2L344.0 275.2L350.0 275.2L355.0 275.0L357.5 276.5L355.0 278.0L353.0 280.0L350.0 279.0L347.0 280.5L343.0 281.0L339.5 280.2L337.0 279.0ZM362.0 294.0L366.0 293.8L370.0 293.8L374.5 293.2L377.5 294.5L380.0 297.0L379.0 299.5L376.0 300.5L374.0 302.0L372.0 304.5L371.0 302.0L369.0 300.0L366.0 298.5L363.5 297.5L362.2 296.0ZM384.0 303.0L385.0 300.0L386.5 297.0L390.0 296.0L394.0 296.5L396.0 298.5L394.5 302.0L393.5 305.0L390.0 306.0L386.5 305.0ZM397.0 300.0L400.0 296.0L405.0 295.0L410.0 294.0L414.0 296.0L417.0 294.0L422.0 295.0L427.0 296.0L431.0 295.0L434.0 298.0L438.0 300.0L439.0 303.0L434.0 304.0L429.0 303.0L424.0 304.0L419.0 303.0L414.0 305.0L410.0 304.0L406.0 308.0L401.0 307.0L398.0 304.0ZM290.0 143.0L287.0 148.0L282.0 152.0L279.0 158.0L277.0 162.0L277.0 160.0L279.0 166.0L282.0 174.0L285.0 180.0L289.0 185.0L292.0 190.0L294.0 196.0L293.0 202.0L296.0 208.0L298.0 214.0L300.0 216.0L305.0 217.0L310.0 215.0L315.0 214.0L320.0 216.0L323.0 220.0L324.0 224.0L328.0 223.0L332.0 221.0L338.0 220.0L342.0 217.0L347.0 220.0L352.0 223.0L358.0 224.0L363.0 227.0L366.0 233.0L372.0 232.0L378.0 230.0L383.0 228.0L386.0 226.0L387.0 231.0L389.0 232.0L390.0 224.0L391.0 216.0L392.0 210.0L390.0 205.0L393.0 200.0L394.0 194.0L397.0 190.0L401.0 186.0L406.0 182.0L408.0 176.0L410.0 170.0L412.0 164.0L414.4 161.6L417.5 161.2L420.0 158.8L422.5 157.5L428.1 159.4L430.0 158.1L428.1 156.2L425.0 153.8L421.2 150.6L418.1 147.5L415.0 143.8L413.8 140.0L414.4 136.2L411.9 132.5L410.0 127.5L408.8 122.5L409.4 117.5L407.5 113.8L407.5 109.4M355.0 160.0L354.0 162.0L351.0 166.0L347.0 171.0L342.0 177.0L336.0 180.0L328.0 183.0L320.0 187.0L313.0 193.0L309.0 197.0L311.0 204.0L312.0 212.0L315.0 214.0M354.0 162.0L362.0 163.0L368.0 162.0L370.0 168.0L369.0 172.0L373.0 176.0L376.0 182.0L379.0 188.0L381.0 192.0L378.0 196.0L375.0 202.0L370.0 208.0L365.0 215.0L361.0 222.0L363.0 227.0M381.0 192.0L382.0 200.0L383.0 206.0L388.0 207.0L392.0 208.0M386.0 220.0L389.0 219.0L390.0 226.0L388.0 230.0L386.0 227.0ZM354.0 153.0L350.0 159.0L347.0 166.0L345.0 172.0L340.0 178.0L332.0 181.0L326.0 184.0L320.0 189.0L309.0 197.0M354.0 153.0L358.0 159.0L366.0 163.0L372.0 165.0L370.0 154.4L375.0 155.0L378.8 152.5L382.5 151.2L386.2 146.2L388.8 140.0L391.2 135.6L396.2 134.4L401.2 133.1L406.2 133.1L410.0 135.6L413.1 136.9L414.4 136.2M368.0 164.0L369.0 170.0L373.0 174.0L374.0 180.0L377.0 185.0L379.0 190.0L368.0 162.0M440.6 183.1L439.4 176.2L440.0 171.2L442.5 165.6L445.6 161.2L448.8 157.5L453.1 155.0L457.5 152.5L462.5 151.9L467.5 152.5L472.5 155.0L478.8 155.6L485.0 156.9L490.0 158.8L495.0 159.4L500.0 160.0L505.0 158.8L510.0 156.2L513.1 152.5L516.2 149.4L518.8 146.2L521.9 145.0L523.8 146.0L522.8 148.8L520.0 151.2L516.2 156.2L512.5 160.0L507.5 163.8L502.5 166.2L497.5 166.9L492.5 165.0L487.5 164.4L480.0 163.8L472.5 164.4L466.2 164.4L460.0 165.0L453.8 165.6L449.4 166.9L446.9 170.6L445.6 176.2L446.9 181.2L450.0 185.6L453.1 189.4L455.6 192.5L460.0 193.1L463.8 191.2L466.9 187.5L470.0 184.4L473.8 183.1L478.8 182.5L483.8 183.1L488.8 182.5L493.1 181.2L496.2 183.1L495.6 185.6L492.5 186.9L488.8 188.1L485.0 190.0L481.9 192.5L478.1 195.0L485.0 195.0L480.0 196.2L475.0 197.5L470.0 198.8L466.2 200.0L470.0 203.8L472.5 208.8L475.0 212.5L477.5 216.2L480.6 218.1L480.0 221.9L481.9 225.0L483.8 227.5L485.6 230.6L488.1 232.5L491.2 233.1L493.1 235.0L492.5 238.8L493.8 243.1L493.1 247.5L492.5 251.2M440.6 183.1L438.8 187.5L436.9 192.5L435.6 197.5L435.6 195.0L434.4 200.0L432.5 206.2L429.4 211.2L426.9 213.8L428.1 218.8L430.0 222.5L431.9 225.6L436.2 226.2L438.8 230.0L440.0 235.0L439.4 240.0L438.1 245.0L436.2 248.8L434.4 251.9L437.5 255.0L441.2 256.2L445.0 256.9L449.4 255.6L451.2 252.5L450.6 247.5L450.0 252.5L449.4 247.5L450.6 242.5L450.0 237.5L450.6 232.5L451.2 227.5L450.0 222.5L448.8 217.5L451.2 215.0L455.0 212.5L458.8 211.9L461.2 213.8L461.9 218.1L459.4 221.9L460.0 225.6L462.5 228.8L465.0 231.9L467.5 233.8L468.8 237.5L468.1 242.5L471.2 244.4L475.0 245.0L478.8 243.1L480.0 240.0L482.5 238.8L485.0 238.1L486.2 242.5L488.1 246.2L487.5 251.2L485.6 256.2M440.0 204.4L443.8 203.1L448.8 202.5L453.8 204.4L458.8 206.2L463.8 207.5L468.8 208.8L472.5 211.2L475.0 215.0L478.8 218.1M432.5 206.2L436.2 207.5L440.0 204.4L442.5 201.2L443.8 197.5L441.9 195.0M438.8 210.0L440.6 215.0L438.8 220.0L436.2 222.5L431.9 225.6M462.5 160.0L463.1 164.4M494.4 159.4L496.2 162.5L498.8 163.8L498.1 166.9M450.0 185.6L448.1 189.4L451.2 192.5L455.6 192.5M451.9 256.2L453.1 261.2L453.5 266.2L452.5 270.0L451.9 265.0L451.2 260.0ZM420.0 297.5L425.0 296.2L430.0 295.0L431.2 298.8L428.8 302.5L423.8 303.8L420.0 303.1" fill="none" stroke="#000" stroke-width="1.1" stroke-linejoin="round" stroke-linecap="round"/>
<path d="M82.0 130.0L85.0 129.0L89.0 132.0L93.0 135.0L93.0 137.0L89.0 137.0L85.0 134.0L82.0 132.0ZM103.0 139.0L106.0 137.0L108.0 139.0L105.0 142.0ZM138.0 202.0L141.0 204.0L143.0 208.0L140.0 207.0ZM146.0 210.0L149.0 212.0L152.0 217.0L154.0 221.0L151.0 220.0L148.0 216.0ZM373.5 275.0L376.0 274.5L379.0 276.0L382.0 277.0L384.0 277.0L383.0 279.5L380.0 278.0L377.0 277.0L374.0 276.5ZM359.5 278.0L363.0 278.5L366.0 278.0L365.5 279.5L362.0 279.8L360.0 279.2ZM404.0 283.0L407.0 282.6L410.0 285.0L407.0 285.4ZM426.0 272.0L429.0 272.6L432.0 276.0L429.6 275.0ZM440.0 274.0L444.0 276.0L442.0 276.6ZM450.0 263.0L452.0 267.0L453.0 272.0L451.0 269.0ZM456.0 275.0L458.4 276.0L457.2 277.0ZM462.0 274.0L464.4 275.0L463.2 276.0ZM467.0 279.0L469.4 280.0L468.2 281.0ZM472.0 282.0L474.4 283.0L473.2 284.0ZM474.0 277.0L476.4 278.0L475.2 279.0ZM459.0 280.0L461.4 281.0L460.2 282.0ZM277.0 195.0L281.0 194.0L282.0 198.0L278.0 198.4ZM274.0 208.0L277.0 207.6L277.6 210.0L274.4 210.4ZM471.9 248.8L475.0 248.1L476.2 251.2L473.8 253.1L471.9 251.2ZM527.0 102.0L529.0 103.0L528.0 104.4ZM528.0 117.0L530.0 116.0L531.0 120.0L529.0 122.0L527.6 120.0ZM525.0 130.0L527.0 131.0L526.0 132.4ZM525.6 136.0L526.6 138.0L525.4 138.4ZM551.0 101.0L552.4 102.4L551.2 102.8ZM585.0 171.0L588.0 173.0L589.0 175.0L586.4 174.0ZM540.0 151.6L541.2 152.4L540.2 153.0ZM537.0 157.0L538.0 158.0L537.0 158.4ZM487.0 295.0L491.0 294.0L496.0 295.6L500.0 295.0L504.0 296.0L502.0 299.0L497.0 300.0L492.0 299.6L488.0 299.0ZM505.0 295.0L512.0 294.0L519.0 293.6L522.4 295.0L522.0 297.6L516.0 298.4L509.0 299.0L505.0 298.0Z" fill="none" stroke="#000" stroke-width="1.3" stroke-linejoin="round" stroke-linecap="round"/>
<path d="M74.0 84.0L76.0 83.6L76.6 85.2L74.8 85.6ZM285.0 179.0L289.0 180.0L292.0 186.0L289.0 190.0L286.0 187.0L288.0 184.0ZM490.0 197.5L493.8 196.2L497.5 198.1L500.0 201.2L503.1 200.6L501.2 203.8L497.5 202.5L493.8 200.6ZM492.5 195.6L496.2 194.4L500.0 195.6M624.0 250.0L625.0 253.0M628.0 256.0L630.0 258.0M558.0 221.0L561.0 220.0L562.4 222.0L559.6 223.0Z" fill="none" stroke="#000" stroke-width="1.5" stroke-linejoin="round" stroke-linecap="round"/>
<path d="M96.0 101.0L101.0 102.0L100.0 104.0L96.4 103.0ZM125.0 130.0L128.0 129.6L131.0 133.0L132.4 137.0L130.0 137.6L127.0 135.0ZM223.0 202.0L226.0 197.0L230.0 195.0L234.0 197.0L238.0 202.0L240.0 208.0L243.0 212.0L248.0 215.0L245.0 217.0L240.0 215.0L236.0 211.0L231.0 208.0L227.0 205.0ZM131.0 189.0L133.0 190.0L135.0 195.0L135.6 199.6L133.0 197.6L131.0 193.0ZM107.0 152.0L111.0 151.0L115.0 157.0L114.4 163.6L111.0 163.0L108.0 158.0ZM125.6 187.6L129.0 186.4L133.0 193.0L135.6 199.6L132.0 198.0L128.4 194.0ZM377.0 302.0L379.0 302.0L379.2 303.5L377.5 303.5ZM480.0 241.2L481.2 245.0L480.6 250.0L482.5 253.8L482.5 248.8L485.0 252.5L488.1 251.2L490.0 247.5M485.0 243.8L486.9 247.5L488.8 251.2L491.9 245.6L493.1 249.4L491.2 252.5L488.8 255.6L485.6 256.9M613.0 231.0L615.0 233.0L614.0 234.4ZM619.0 237.0L621.0 242.0L619.6 241.0ZM624.0 249.0L626.0 254.0L624.8 253.0ZM600.0 199.0L602.0 201.0L601.0 205.0ZM657.6 266.0L667.0 265.0" fill="none" stroke="#000" stroke-width="1.2" stroke-linejoin="round" stroke-linecap="round"/>
<path d="M141.0 68.0L144.0 72.0L146.0 77.0L148.0 82.0L149.0 87.0L150.0 92.0L153.0 98.0L155.0 103.0L156.0 108.0L159.0 113.0L162.0 118.0L165.0 123.0L168.0 128.0L172.0 133.0L178.0 137.0L183.0 141.0L188.0 144.0L194.0 148.0L200.0 151.0L205.0 153.0L210.0 154.0M162.0 68.0L168.0 72.0L174.0 77.0L180.0 81.0L186.0 84.0L191.0 89.0L195.0 95.0M162.0 85.0L166.0 82.0L172.0 81.0L176.0 84.0L178.0 86.0" fill="none" stroke="#b4b4b4" stroke-width="0.8" stroke-linejoin="round" stroke-linecap="round"/>
<path d="M258.0 214.0L261.0 211.0L266.0 211.0L269.0 215.0L267.0 219.0L262.0 220.0L259.0 218.0ZM120.0 171.0L125.0 170.0L129.0 169.6L125.0 174.0L123.0 180.0L121.0 176.0ZM139.0 202.4L141.6 203.6L143.6 207.6L141.0 206.4ZM145.6 210.4L148.4 211.6L153.0 218.0L154.0 221.6L151.0 220.0L147.6 215.6ZM178.0 250.5L180.5 251.2L181.0 254.5L178.5 253.8ZM498.1 250.6L500.0 252.5L502.5 255.0L501.2 255.6L498.8 253.1ZM505.0 258.1L506.2 261.2L505.6 262.5M453.8 277.5L456.2 278.8L462.5 281.9L461.2 282.5L456.2 280.6ZM470.0 280.0L472.5 281.2L471.9 284.4L470.6 282.5ZM427.5 270.6L430.0 271.9L432.5 275.0L430.6 274.4M441.9 274.4L443.8 274.8L443.1 276.0ZM728.0 282.0L729.0 285.0L728.0 290.0L726.0 294.0L724.0 297.0M614.0 231.0L616.0 233.0L614.4 233.2ZM619.0 238.0L621.0 243.0L619.6 242.0ZM624.4 249.0L625.6 254.0L624.4 253.0ZM573.0 278.0L575.0 279.0L574.0 281.6ZM586.0 272.0L587.6 273.0L586.4 273.6ZM593.0 266.0L594.4 267.0L593.2 267.6ZM591.0 239.0L594.0 240.0L593.0 241.2ZM554.0 284.0L558.0 284.4L559.0 286.4L555.0 286.0ZM500.0 253.0L503.0 255.0L505.0 260.0L503.0 259.0ZM510.0 251.0L511.0 253.0L510.0 253.2ZM567.0 286.0L569.0 285.0L569.6 287.0ZM494.0 325.0L497.0 323.6L498.4 325.0L496.0 327.0ZM554.0 285.0L558.0 284.0L559.6 285.6L556.0 286.8ZM559.0 294.4L564.0 293.6L568.0 294.4L567.0 296.0L562.0 296.0ZM575.0 294.4L580.0 294.0L580.4 295.6L576.0 295.6ZM572.0 279.0L574.4 278.0L575.2 280.4L572.8 281.0ZM588.0 289.0L591.6 288.4L593.0 291.0L590.0 292.4L588.4 291.0ZM552.0 292.4L553.6 293.0L552.4 293.6Z" fill="none" stroke="#000" stroke-width="1.4" stroke-linejoin="round" stroke-linecap="round"/>
<path d="M195.0 155.6L198.8 154.4L202.5 156.2L206.2 154.4L210.0 155.0L213.8 154.4L218.1 156.9L216.9 160.6L213.8 160.0L211.2 161.9L208.8 160.0L205.0 161.2L201.9 159.4L198.1 160.0L195.6 158.1ZM205.0 156.9L208.8 157.5L212.5 156.9M210.6 165.6L213.1 170.0L216.9 174.4M264.4 111.9L266.9 109.4L270.0 110.0L271.9 113.1L271.2 116.2L268.1 118.1L265.6 116.2ZM432.5 298.8L436.2 297.5L440.0 298.1L442.5 300.6L440.6 303.8L436.9 303.1L433.8 301.9Z" fill="none" stroke="#000" stroke-width="2" stroke-linejoin="round" stroke-linecap="round"/>
<path d="M208.8 162.5L211.9 163.8L213.8 166.9L216.2 170.0L219.4 173.1L220.6 176.2L218.1 176.9L215.6 175.0L214.4 178.1L211.9 181.2L208.8 180.6L208.1 178.1L210.6 176.2L211.9 173.1L210.0 170.0L208.8 166.2Z" fill="none" stroke="#000" stroke-width="2.2" stroke-linejoin="round" stroke-linecap="round"/>
<path d="M256.2 155.6L259.4 156.2L258.8 158.8L256.2 158.1ZM250.0 162.5L253.1 162.5L253.1 164.4L250.6 164.4ZM253.1 169.4L255.0 169.4L254.4 171.0ZM265.0 167.5L266.5 168.1L265.5 168.5ZM245.6 157.5L246.9 158.1L246.0 158.5ZM223.8 188.8L225.6 189.4L225.0 191.2ZM219.4 183.1L220.6 184.0L219.8 184.2ZM276.9 195.0L280.0 194.4L280.6 196.9L277.5 197.5ZM282.5 190.0L285.0 189.4L285.6 191.9L283.1 192.5ZM264.8 100.6L266.2 102.5L265.0 102.8ZM261.2 125.0L262.5 127.5L261.5 127.8ZM276.2 127.5L279.4 126.2L280.0 130.6L277.5 131.2ZM280.0 133.8L283.1 132.5L282.5 135.6Z" fill="#000" stroke="#000" stroke-width="1.3" stroke-linejoin="round" stroke-linecap="round"/>
<path d="M230.0 125.6L233.1 124.4L236.9 123.1L238.8 121.2L242.5 121.2L243.8 124.4L241.2 126.9L239.4 129.4L240.6 131.9L238.1 131.9L236.2 129.4L233.8 130.0L231.2 128.8Z" fill="#000" stroke="#000" stroke-width="1.5" stroke-linejoin="round" stroke-linecap="round"/>
<path d="M196.9 95.0L197.5 102.5L198.1 111.2L197.5 120.0L198.8 130.0L202.5 132.5L206.2 137.5L208.8 145.0L207.5 151.2L205.0 152.8M290.0 143.0L294.0 148.0L300.0 154.0L306.0 158.0L313.0 156.0L320.0 154.0L327.0 153.0L330.0 150.0L338.0 148.0L346.0 151.0L354.0 153.0L361.0 152.0L365.0 148.0L368.0 140.0L372.0 133.0L376.0 127.0L379.0 120.0L381.0 112.0L384.0 108.0L390.0 107.0L398.0 106.0L406.0 107.0L410.0 109.0M290.0 143.0L298.0 145.0L305.0 150.0L313.0 148.0L315.0 140.0L316.0 132.0L322.0 129.0L330.0 126.0L339.0 122.0L346.0 114.0L352.0 108.0L358.0 103.0L364.0 101.0L370.0 97.0L374.0 92.0L376.0 90.0M376.0 90.0L380.0 88.0L384.0 83.0L387.0 79.0L391.0 75.0L396.0 71.0L399.0 69.0L402.0 69.0L405.0 73.0L408.0 77.0L410.0 82.0L414.0 84.0L419.0 82.0L424.0 85.0L430.0 88.0L433.0 93.0L430.0 97.0L425.0 99.0L420.0 98.0L419.0 102.0L425.0 105.0L427.0 103.0L426.0 107.0L420.0 109.0L416.0 110.0L410.0 109.0M376.0 90.0L374.0 95.0L369.0 97.0L370.0 101.0L365.0 103.0L360.0 106.0M392.0 67.4L394.0 72.0L398.0 70.0L397.0 67.4M401.0 67.4L404.0 71.0L407.0 75.0L409.0 72.0L406.0 67.4" fill="none" stroke="#b4b4b4" stroke-width="0.9" stroke-linejoin="round" stroke-linecap="round"/>
<path d="M407.5 110.0L411.2 110.6L413.1 113.8L411.2 116.2L413.1 120.0L410.0 121.9L407.5 120.0L405.6 121.9L403.8 118.8L401.2 118.1L403.8 115.6L406.2 116.2L407.5 113.1ZM656.0 272.0L657.0 262.0L659.0 255.0L663.0 252.0L666.0 255.0L668.0 262.0L668.0 270.0L666.0 276.0L662.0 277.0L658.0 275.6ZM632.0 260.0L635.0 257.0L639.0 253.0L642.0 251.6L641.0 256.0L638.0 260.0L634.0 262.0ZM628.0 256.0L631.0 254.0L634.0 255.0L640.0 251.0L642.0 253.0L638.0 259.0L633.0 262.0L630.0 260.0ZM609.0 284.0L612.0 281.0L616.0 278.0L618.0 273.0L620.0 276.0L623.0 278.0L620.0 282.0L616.0 285.0L612.0 288.0L609.0 289.0Z" fill="none" stroke="#000" stroke-width="1.8" stroke-linejoin="round" stroke-linecap="round"/>
<path d="M406.9 123.8L408.8 123.1L409.8 126.2L407.5 126.9ZM423.1 138.1L425.0 137.5L425.6 140.0L423.8 140.2ZM470.0 178.8L473.8 176.9L477.5 175.6L480.0 176.2L478.8 178.1L475.0 179.4L471.2 180.6ZM659.0 270.0L661.0 262.0L663.0 256.0M665.0 272.0L664.4 264.0L665.6 259.0" fill="none" stroke="#000" stroke-width="1.6" stroke-linejoin="round" stroke-linecap="round"/>
<path d="M441.2 96.4L443.8 93.9L448.1 92.0L451.9 91.4L455.0 93.2L452.5 95.8L448.8 97.0L445.0 99.5L442.5 100.1ZM435.6 98.9L437.5 98.2L437.8 102.6L436.0 103.0ZM456.9 86.4L458.8 85.1L461.2 85.8L461.9 88.2L459.4 90.1L457.2 89.5ZM458.8 80.8L461.9 79.5L466.2 80.8L470.0 80.1L473.1 80.8L472.5 82.6L468.8 83.2L465.0 83.9L461.9 84.5L459.4 83.2ZM451.9 78.2L454.4 76.4L457.5 77.0L455.6 79.5L453.1 80.8ZM472.5 72.0L475.6 70.8L478.8 72.6L478.1 75.8L475.0 77.0L472.5 75.1ZM467.5 69.5L470.0 68.2L475.0 68.0L480.0 68.9L480.6 71.4L478.8 70.8L475.0 69.8L470.6 70.8L468.1 72.0ZM440.6 85.1L441.9 84.5L442.2 86.0ZM445.0 83.2L446.9 83.0L446.2 84.0ZM443.8 95.1L447.5 93.9L450.6 94.8ZM461.2 82.0L466.2 82.0L470.0 81.4Z" fill="none" stroke="#c4c4c4" stroke-width="1" stroke-linejoin="round" stroke-linecap="round"/>
<path d="M511.0 198.5L515.2 198.8L516.5 201.5L513.5 203.5L511.0 202.2ZM610.0 187.0L614.0 185.0L620.0 183.0L626.0 179.0L632.0 177.0L639.0 179.0L645.0 183.0L650.0 184.0L655.0 184.0L657.0 189.0L659.0 194.0L660.0 200.0L662.0 206.0L664.0 212.0L666.0 218.0L669.0 221.0L673.0 222.0L677.0 220.0L680.0 217.0L683.0 213.0L686.0 210.0L689.0 207.0L694.0 205.0L700.0 203.0L703.0 201.0L705.0 198.0L709.0 196.0L713.0 194.0L720.0 197.0L728.0 200.0L736.0 204.0L744.0 207.0L752.0 208.0L759.4 209.8M759.4 308.0L757.0 307.0L753.0 304.0L749.0 300.0L745.0 296.0L741.0 293.0L736.0 294.0L731.0 294.0L728.0 296.0L723.0 297.0L716.0 298.0L709.6 298.0L712.0 292.0L715.0 286.0L720.0 282.4L728.0 282.0L724.0 276.0L723.0 270.0L720.0 265.0L718.0 259.0L714.0 254.0L708.0 250.0L700.0 246.0L690.0 243.0L680.0 240.0L690.0 242.0L682.0 239.0L674.0 237.0L669.0 235.0L672.0 230.0L666.0 232.0L660.0 231.0L656.0 229.0L652.0 226.0L650.0 222.0L651.0 218.0L648.0 220.0L645.0 224.0L643.0 229.0L643.0 234.0L639.0 233.0L637.0 228.0L636.0 222.0L633.0 218.0L628.0 217.0L625.6 215.0L626.0 213.0L630.0 212.0L636.0 212.4L641.0 210.0L647.0 209.2L653.0 208.0L655.0 203.0L654.0 207.0L649.0 209.0L643.0 208.0L637.0 207.0L632.0 205.0L628.0 201.0L624.0 197.0L619.0 195.0L614.0 194.0L610.0 192.0L608.0 189.0L610.0 187.0M645.0 183.0L646.0 186.0L643.0 190.0L636.0 191.0L633.0 195.0L632.0 205.0M686.0 210.0L688.0 215.0L692.0 219.0L698.0 220.0L704.0 217.0L709.0 218.0L715.0 221.0L720.0 220.0L728.0 222.0L736.0 224.0L744.0 227.0L752.0 230.0L759.4 231.0M715.0 221.0L718.0 226.0L717.0 229.0L712.0 232.0L710.0 237.0L709.0 241.0L715.0 242.0L724.0 244.0L734.0 246.0L744.0 249.0L754.0 251.0L759.4 252.0M709.0 241.0L711.0 246.0L709.0 250.0L706.0 249.0M672.0 230.0L667.0 226.0L664.0 220.0M708.0 250.0L711.0 246.0L709.0 242.0L716.0 241.0L724.0 243.0L734.0 246.0L744.0 249.0L752.0 250.4L759.4 251.0" fill="none" stroke="#000" stroke-width="0.9" stroke-linejoin="round" stroke-linecap="round"/>
<path d="M759.4 228.0L759.4 268.0L758.0 270.0L757.6 272.4L759.2 275.0L759.4 308.0" fill="none" stroke="#777" stroke-width="0.8" stroke-linejoin="round" stroke-linecap="round"/>
<path d="M671.0 194.0L677.0 195.0L684.0 196.6L691.0 198.0L696.0 199.0L691.0 199.6L684.0 199.0L677.0 197.6ZM676.0 181.0L679.0 182.0L683.0 184.0L687.0 188.0L691.0 190.0L694.0 191.0L690.0 191.6L685.0 190.0L681.0 187.0L678.0 184.0ZM667.0 186.6L669.0 186.0L670.0 188.0L668.0 189.0ZM600.0 174.0L604.0 172.4L609.0 173.0L614.0 175.0L612.0 178.0L607.0 179.0L603.0 180.0L600.0 178.0ZM603.0 185.0L608.0 184.0L611.0 187.0L610.0 192.0L606.0 193.0L604.0 190.0ZM568.0 136.0L571.0 133.0L575.0 133.6L575.6 138.0L573.0 142.0L569.0 142.0L567.6 139.0ZM560.0 142.0L564.0 139.0L566.0 143.0L565.0 148.0L564.0 153.0L569.0 150.0L573.0 148.0L577.0 149.0L576.0 154.0L573.0 158.0L570.0 161.0L574.0 164.0L578.0 168.0L580.0 170.0L576.0 169.0L571.0 167.0L567.0 166.0L565.0 169.0L566.0 175.0L569.0 181.0L571.0 186.0L569.0 187.0L566.0 183.0L563.0 177.0L561.0 170.0L559.0 164.0L557.0 158.0L557.0 152.0L558.0 147.0ZM551.0 175.0L554.0 173.0L557.0 176.0L559.0 180.0L562.0 182.0L560.0 185.0L556.0 184.0L552.4 180.0ZM555.0 192.0L559.0 190.0L564.0 192.0L567.0 196.0L564.0 199.0L558.0 198.4L555.0 195.6ZM598.0 173.0L603.0 172.0L609.0 172.0L614.0 174.0L613.0 177.0L608.0 179.0L603.0 180.0L599.0 177.0ZM604.0 185.0L609.0 184.0L612.0 187.0L611.0 191.0L607.0 192.0L605.0 189.0ZM545.0 106.0L547.0 104.0L548.4 107.0L547.6 112.0L545.6 115.6L544.4 112.0ZM535.0 222.0L539.0 219.0L545.0 218.0L551.0 220.0L554.0 224.0L553.0 228.0L548.0 230.0L542.0 229.0L537.0 226.0ZM564.0 218.0L569.0 215.6L576.0 214.4L582.0 215.6L588.0 213.6L594.0 215.0L600.0 217.0L605.0 220.0L608.0 225.0L609.0 229.0L605.0 228.0L599.0 225.0L592.0 223.0L585.0 221.6L579.0 222.0L576.0 226.0L570.0 227.0L565.0 228.0L563.6 224.0L566.0 221.0ZM590.0 198.0L595.0 196.0L600.0 197.0L603.0 201.0L599.0 204.0L593.0 202.4ZM533.0 288.0L538.0 285.6L544.0 286.0L547.0 288.0L544.0 290.0L534.0 290.0ZM555.0 194.0L559.0 191.0L564.0 192.0L567.0 196.0L563.0 199.0L558.0 199.0ZM441.0 300.0L446.0 297.0L454.0 296.0L462.0 297.0L470.0 300.0L478.0 300.0L484.0 298.0L488.0 297.0L487.0 301.0L480.0 303.0L472.0 304.0L464.0 306.0L456.0 305.6L448.0 304.4L442.0 303.6ZM531.0 290.0L534.0 287.6L540.0 286.0L545.0 285.6L547.0 287.6L544.0 290.0L539.0 291.6L533.0 292.0ZM519.0 306.0L521.0 310.0L520.0 315.0L517.0 319.0L512.0 323.0L506.0 326.0L500.0 327.6L497.0 326.0L499.0 322.0L501.0 318.0L504.0 313.0L510.0 310.0L515.0 307.0ZM485.0 334.0L489.0 332.4L493.0 330.0L497.0 328.4L498.0 330.0L494.0 333.0L490.0 335.6L486.4 336.4ZM468.0 330.0L472.0 328.4L475.0 329.0L474.0 331.0L470.0 331.6ZM440.0 312.0L445.0 313.0L450.0 316.0L455.0 320.0L458.0 323.6L456.0 326.0L450.0 326.4L444.0 324.0L438.0 321.6L437.0 315.0Z" fill="none" stroke="#000" stroke-width="1" stroke-linejoin="round" stroke-linecap="round"/>
<path d="M500.0 201.0L512.0 198.4L524.0 198.0L535.0 199.6L542.0 199.0M516.0 197.0L526.0 200.0L535.0 202.0L536.0 208.0" fill="none" stroke="#000" stroke-width="0.8" stroke-linejoin="round" stroke-linecap="round"/>
</g>
<rect x="56.3" y="67.4" width="718.2" height="284.4" fill="none" stroke="#000" stroke-width="1"/>
<path d="M146.07 67.40v-10.00M146.07 351.80v10.00M445.33 67.40v-10.00M445.33 351.80v10.00M744.57 67.40v-10.00M744.57 351.80v10.00M56.30 321.86h-10.00M774.50 321.86h10.00M56.30 247.02h-10.00M774.50 247.02h10.00M56.30 172.18h-10.00M774.50 172.18h10.00M56.30 97.34h-10.00M774.50 97.34h10.00" stroke="#000" stroke-width="0.9" fill="none"/>
<path d="M71.26 67.40v-5.20M71.26 351.80v5.20M220.89 67.40v-5.20M220.89 351.80v5.20M295.70 67.40v-5.20M295.70 351.80v5.20M370.51 67.40v-5.20M370.51 351.80v5.20M520.14 67.40v-5.20M520.14 351.80v5.20M594.95 67.40v-5.20M594.95 351.80v5.20M669.76 67.40v-5.20M669.76 351.80v5.20M56.30 351.80h-5.20M774.50 351.80h5.20M56.30 336.83h-5.20M774.50 336.83h5.20M56.30 306.89h-5.20M774.50 306.89h5.20M56.30 291.93h-5.20M774.50 291.93h5.20M56.30 276.96h-5.20M774.50 276.96h5.20M56.30 261.99h-5.20M774.50 261.99h5.20M56.30 232.05h-5.20M774.50 232.05h5.20M56.30 217.08h-5.20M774.50 217.08h5.20M56.30 202.12h-5.20M774.50 202.12h5.20M56.30 187.15h-5.20M774.50 187.15h5.20M56.30 157.21h-5.20M774.50 157.21h5.20M56.30 142.24h-5.20M774.50 142.24h5.20M56.30 127.27h-5.20M774.50 127.27h5.20M56.30 112.31h-5.20M774.50 112.31h5.20M56.30 82.37h-5.20M774.50 82.37h5.20M56.30 67.40h-5.20M774.50 67.40h5.20" stroke="#000" stroke-width="0.45" fill="none"/>
<text x="37.8" y="102.0" font-size="13.2" text-anchor="end">5N</text>
<text x="37.8" y="176.9" font-size="13.2" text-anchor="end">0</text>
<text x="37.8" y="251.7" font-size="13.2" text-anchor="end">5S</text>
<text x="37.8" y="326.6" font-size="13.2" text-anchor="end">10S</text>
<text x="146.1" y="380.5" font-size="13" text-anchor="middle">100E</text>
<text x="445.3" y="380.5" font-size="13" text-anchor="middle">120E</text>
<text x="744.6" y="380.5" font-size="13" text-anchor="middle">140E</text>
<text x="252" y="24.8" font-size="20.5" font-weight="bold" textLength="326.5" lengthAdjust="spacingAndGlyphs">Indeks Ultraviolet Sinar Matahari</text>
<text x="55.3" y="52.8" font-size="16.5">2023-06-29</text>
<text x="148" y="52.8" font-size="16.5">15:00 WIB</text>
<text x="774.6" y="52.6" font-size="16.5" text-anchor="end">INDONESIA</text>
<rect x="150.50" y="391" width="44.10" height="24.6" fill="#ffffff" stroke="#000" stroke-width="0.5"/>
<rect x="194.60" y="391" width="44.10" height="24.6" fill="#008b00" stroke="#000" stroke-width="0.5"/>
<rect x="238.70" y="391" width="44.10" height="24.6" fill="#00cd00" stroke="#000" stroke-width="0.5"/>
<rect x="282.80" y="391" width="44.10" height="24.6" fill="#ffff00" stroke="#000" stroke-width="0.5"/>
<rect x="326.90" y="391" width="44.10" height="24.6" fill="#ffff00" stroke="#000" stroke-width="0.5"/>
<rect x="371.00" y="391" width="44.10" height="24.6" fill="#eeee00" stroke="#000" stroke-width="0.5"/>
<rect x="415.10" y="391" width="44.10" height="24.6" fill="#ffa500" stroke="#000" stroke-width="0.5"/>
<rect x="459.20" y="391" width="44.10" height="24.6" fill="#ee9a00" stroke="#000" stroke-width="0.5"/>
<rect x="503.30" y="391" width="44.10" height="24.6" fill="#ff0000" stroke="#000" stroke-width="0.5"/>
<rect x="547.40" y="391" width="44.10" height="24.6" fill="#ee0000" stroke="#000" stroke-width="0.5"/>
<rect x="591.50" y="391" width="44.10" height="24.6" fill="#cd0000" stroke="#000" stroke-width="0.5"/>
<path d="M635.60 391 L680.00 403.3 L635.60 415.6Z" fill="#a020f0" stroke="#a020f0" stroke-width="0.3"/>
<text x="194.60" y="432.6" font-size="11.8" text-anchor="middle">1</text>
<text x="238.70" y="432.6" font-size="11.8" text-anchor="middle">2</text>
<text x="282.80" y="432.6" font-size="11.8" text-anchor="middle">3</text>
<text x="326.90" y="432.6" font-size="11.8" text-anchor="middle">4</text>
<text x="371.00" y="432.6" font-size="11.8" text-anchor="middle">5</text>
<text x="415.10" y="432.6" font-size="11.8" text-anchor="middle">6</text>
<text x="459.20" y="432.6" font-size="11.8" text-anchor="middle">7</text>
<text x="503.30" y="432.6" font-size="11.8" text-anchor="middle">8</text>
<text x="547.40" y="432.6" font-size="11.8" text-anchor="middle">9</text>
<text x="591.50" y="432.6" font-size="11.8" text-anchor="middle">10</text>
<text x="635.60" y="432.6" font-size="11.8" text-anchor="middle">11</text>
<text x="399.5" y="448.2" font-size="13" text-anchor="middle">Indeks UV</text>
<text x="400.5" y="462.5" font-size="11" text-anchor="middle">(dihitung dari: UV biologically effective dose)</text>
<text x="24.5" y="477.5" font-size="13.25">Sumber data: CAMS/ECMWF</text>
<text x="24.5" y="493.3" font-size="13.25">Waktu validasi: 2023-06-27 07:00 WIB</text>
<defs><clipPath id="lgl"><path d="M712.0 448.0L733.4 448.0L740.6 455.1L746.3 460.9L750.6 466.6L756.3 472.3L761.3 478.0L712.0 478.0"/></clipPath><clipPath id="lgr"><path d="M736.6 448.0L743.0 454.4L748.7 460.6L753.0 466.3L758.7 472.0L763.7 478.0L789.1 478.0L789.1 448.0"/></clipPath></defs>
<g clip-path="url(#lc)">
<rect x="715" y="413.71" width="70" height="5.71" fill="#1f3fcf"/>
<rect x="715" y="422.29" width="70" height="5.71" fill="#1f3fcf"/>
<rect x="715" y="430.14" width="70" height="4.43" fill="#1f3fcf"/>
<rect x="755" y="436.14" width="70" height="2.14" fill="#1f3fcf"/>
<rect x="765" y="439.57" width="70" height="1.71" fill="#1f3fcf"/>
<circle cx="746.29" cy="434.43" r="8.86" fill="#fff"/>
<circle cx="727.43" cy="438.29" r="5.14" fill="#fff"/>
<circle cx="761.29" cy="438.71" r="5.71" fill="#fff"/>
<circle cx="771.71" cy="441.14" r="3.71" fill="#fff"/>
<circle cx="737.71" cy="440.86" r="7.14" fill="#fff"/>
<circle cx="754.86" cy="441.57" r="6.43" fill="#fff"/>
<rect x="715" y="441.29" width="70" height="3.57" fill="#fff"/>
<rect x="715" y="444.86" width="70" height="2.00" fill="#999"/>
<g clip-path="url(#lgl)">
<rect x="715" y="449.71" width="70" height="2.00" fill="#119a11"/>
<rect x="715" y="453.14" width="70" height="2.00" fill="#119a11"/>
<rect x="715" y="456.86" width="70" height="2.57" fill="#119a11"/>
<rect x="715" y="461.14" width="70" height="3.43" fill="#119a11"/>
<rect x="715" y="466.29" width="70" height="4.57" fill="#119a11"/>
<rect x="715" y="472.57" width="70" height="5.43" fill="#119a11"/>
</g><g clip-path="url(#lgr)">
<rect x="715" y="454.57" width="70" height="2.00" fill="#119a11"/>
<rect x="715" y="458.00" width="70" height="2.29" fill="#119a11"/>
<rect x="715" y="461.71" width="70" height="3.43" fill="#119a11"/>
<rect x="715" y="467.14" width="70" height="4.57" fill="#119a11"/>
</g></g>
<text x="725.8" y="491.6" font-size="15" font-weight="bold" textLength="49.5" lengthAdjust="spacingAndGlyphs">BMKG</text>
</svg></body></html>
